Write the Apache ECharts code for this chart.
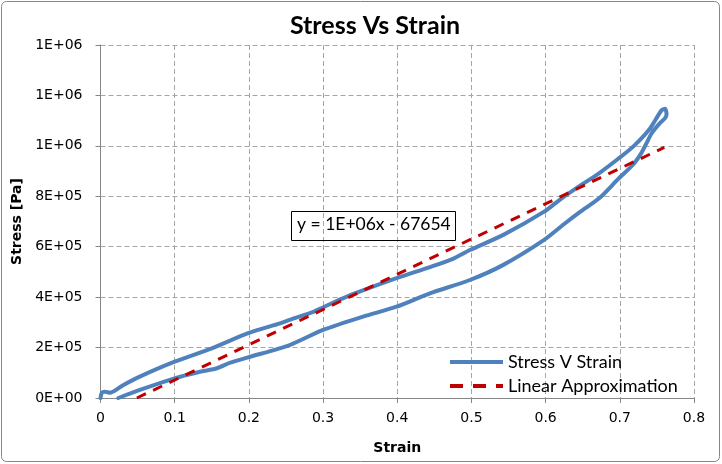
<!DOCTYPE html>
<html>
<head>
<meta charset="utf-8">
<script src="https://cdn.jsdelivr.net/npm/echarts@6/dist/echarts.min.js"></script>
<style>
  html, body { margin: 0; padding: 0; background: #fff; }
  #chart { width: 722px; height: 464px; }
</style>
</head>
<body>
<div id="chart"></div>
<script>
// loading branch (upper curve), strain vs stress [Pa]
const strainUp = [0, 0.002, 0.006, 0.013, 0.031, 0.053, 0.100, 0.150, 0.199, 0.242, 0.255, 0.287, 0.299, 0.332, 0.399, 0.444, 0.475, 0.498, 0.543, 0.598, 0.619, 0.646, 0.669, 0.697, 0.718, 0.741, 0.756, 0.761, 0.763];
const stressUp = [0, 22000, 25000, 21000, 52000, 85000, 144000, 197000, 257000, 296000, 310000, 342000, 358000, 402000, 475000, 519000, 552000, 587000, 647000, 739000, 786000, 841000, 885000, 947000, 997000, 1070000, 1140000, 1147000, 1125000];

// unloading branch (lower curve), going back down
const strainDown = [0.761, 0.754, 0.743, 0.736, 0.729, 0.718, 0.697, 0.673, 0.646, 0.625, 0.598, 0.543, 0.498, 0.444, 0.399, 0.354, 0.300, 0.255, 0.199, 0.175, 0.157, 0.134, 0.100, 0.053, 0.024];
const stressDown = [1110000, 1090000, 1050000, 1011000, 971000, 926000, 866000, 794000, 737000, 690000, 627000, 528000, 468000, 415000, 362000, 323000, 270000, 210000, 161000, 140000, 118000, 104000, 78000, 32000, 0];

// trendline end points
const trendStrain = [0.049, 0.760];
const trendStress = [0, 994000];

const xTicks = ["0", "0.1", "0.2", "0.3", "0.4", "0.5", "0.6", "0.7", "0.8"];
const yTicks = ["0E+00", "2E+05", "4E+05", "6E+05", "8E+05", "1E+06", "1E+06", "1E+06"];

const TITLE_FONT = "Lato";
const AXIS_FONT = "DejaVu Sans";

const stressData = strainUp.map((x, i) => [x, stressUp[i]])
  .concat(strainDown.map((x, i) => [x, stressDown[i]]));
const trendData = trendStrain.map((x, i) => [x, trendStress[i]]);

const chart = echarts.init(document.getElementById("chart"));

const gridLine = { show: true, lineStyle: { color: "#a6a6a6", type: [5, 3], width: 1 } };

const option = {
  animation: false,
  backgroundColor: "#fff",
  title: {
    text: "Stress Vs Strain",
    left: 370,
    top: 8,
    textAlign: "center",
    textStyle: { fontFamily: TITLE_FONT, fontSize: 25, fontWeight: "bold", color: "#000" }
  },
  grid: { left: 100.5, right: 28, top: 45, bottom: 66 },
  legend: {
    orient: "vertical",
    left: 445,
    top: 348,
    itemWidth: 53,
    itemHeight: 4,
    itemGap: 6,
    symbolKeepAspect: false,
    textStyle: { fontFamily: TITLE_FONT, fontSize: 18, lineHeight: 18, color: "#000" },
    data: [
      { name: "Stress V Strain", icon: "path://M0,0H53V4H0Z" },
      { name: "Linear Approximation", icon: "path://M0,0H13V4H0Z M23,0H36V4H23Z M46,0H53V4H46Z" }
    ]
  },
  xAxis: {
    type: "value",
    min: 0,
    max: 0.8,
    interval: 0.1,
    name: "Strain",
    nameLocation: "middle",
    nameGap: 43,
    nameTextStyle: { fontFamily: AXIS_FONT, fontSize: 14, fontWeight: "bold", color: "#000" },
    axisLine: { lineStyle: { color: "#868686", width: 1 } },
    axisTick: { show: true, length: 5, lineStyle: { color: "#868686" } },
    axisLabel: {
      margin: 13,
      fontFamily: AXIS_FONT, fontSize: 14, color: "#000",
      formatter: (v) => xTicks[Math.round(v * 10)]
    },
    splitLine: gridLine
  },
  yAxis: {
    type: "value",
    min: 0,
    max: 1400000,
    interval: 200000,
    name: "Stress [Pa]",
    nameLocation: "middle",
    nameGap: 76,
    nameTextStyle: { fontFamily: AXIS_FONT, fontSize: 14, fontWeight: "bold", color: "#000" },
    axisLine: { show: true, lineStyle: { color: "#868686", width: 1 } },
    axisTick: { show: true, length: 5, lineStyle: { color: "#868686" } },
    axisLabel: {
      margin: 18,
      fontFamily: AXIS_FONT, fontSize: 14, color: "#000",
      formatter: (v) => yTicks[Math.round(v / 200000)]
    },
    splitLine: gridLine
  },
  series: [
    {
      name: "Stress V Strain",
      type: "line",
      data: stressData,
      showSymbol: false,
      symbol: "none",
      smooth: 0.25,
      lineStyle: { color: "#4f81bd", width: 4, cap: "round", join: "round" },
      itemStyle: { color: "#4f81bd" },
      z: 2
    },
    {
      name: "Linear Approximation",
      type: "line",
      data: trendData,
      showSymbol: false,
      symbol: "none",
      lineStyle: { color: "#c00000", width: 3, type: [10, 8] },
      itemStyle: { color: "#c00000" },
      z: 3
    }
  ],
  graphic: [
    {
      type: "rect",
      shape: { x: 1.5, y: 1.5, width: 718, height: 460, r: 5 },
      style: { fill: "none", stroke: "#868686", lineWidth: 1 },
      silent: true
    },
    {
      type: "rect",
      shape: { x: 291.5, y: 211.5, width: 164, height: 29 },
      style: { fill: "none", stroke: "#000", lineWidth: 1 },
      silent: true,
      z: 10
    },
    {
      type: "text",
      left: 297,
      top: 215,
      style: { text: "y = 1E+06x - 67654", fontFamily: TITLE_FONT, fontSize: 17.5, fill: "#000" },
      silent: true,
      z: 10
    }
  ]
};

chart.setOption(option);
</script>
</body>
</html>
